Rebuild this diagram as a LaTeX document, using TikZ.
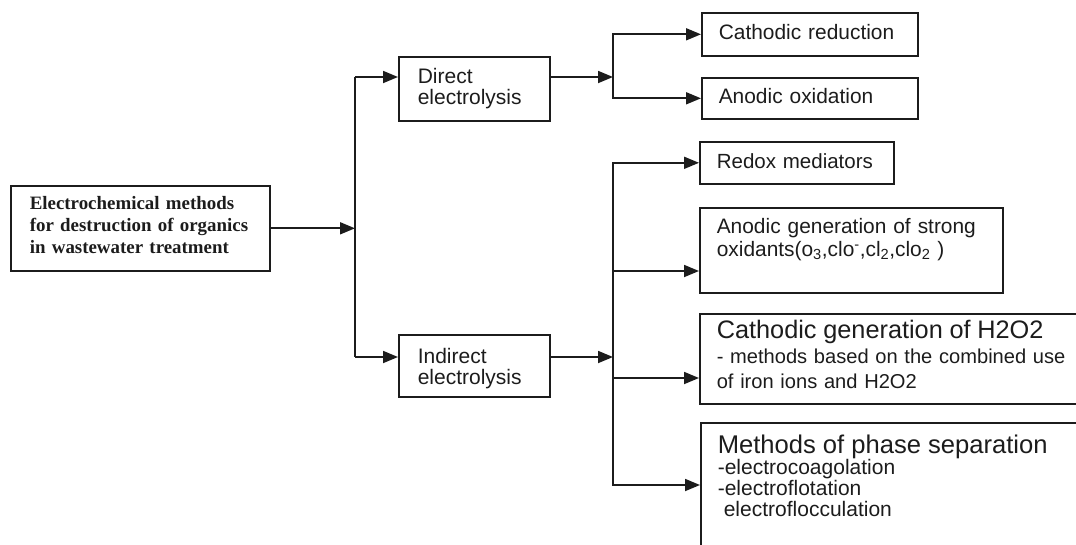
\documentclass[tikz,border=0pt]{standalone}
\usepackage{fontspec}
\setmainfont{Liberation Sans}
\newfontfamily\serifbold{Liberation Serif}
\usetikzlibrary{arrows.meta}
\definecolor{ink}{HTML}{1C1C1C}
\tikzset{
  box/.style={draw=ink, line width=1.6pt, text=ink, anchor=north west,
    inner ysep=0pt, inner xsep=17pt, align=left},
  conn/.style={draw=ink, line width=1.8pt},
  arr/.style={conn, -{Triangle[length=15pt,width=12pt]}},
}
\begin{document}
\begin{tikzpicture}[x=1pt, y=-1pt]
    \useasboundingbox (0,0) rectangle (1076,544);
    \clip (0,0) rectangle (1076,544);

    % Root
    \node[box, inner xsep=19pt, text width=221pt, text height=24pt, text depth=61pt,
      font=\serifbold\bfseries\fontsize{18.9}{22}\selectfont] (methods) at (10,185)
      {Electrochemical methods\\for destruction of organics\\in wastewater treatment};

    % Two kinds of electrolysis
    \node[box, inner xsep=19pt, text width=113pt, text height=27pt, text depth=37pt,
      font=\fontsize{21}{20.5}\selectfont] (direct) at (398,56) {Direct\\electrolysis};
    \node[box, inner xsep=19pt, text width=113pt, text height=29pt, text depth=33pt,
      font=\fontsize{21}{20.5}\selectfont] (indirect) at (398,334) {Indirect\\electrolysis};

    % Direct methods
    \node[box, text width=182pt, text height=27pt, text depth=16pt,
      font=\fontsize{20.9}{21}\selectfont] (cathred) at (701,12) {Cathodic reduction};
    \node[box, text width=182pt, text height=26pt, text depth=15pt,
      font=\fontsize{20.9}{21}\selectfont] (anodox) at (701,77) {Anodic oxidation};

    % Indirect methods
    \node[box, text width=160pt, text height=27pt, text depth=15pt,
      font=\fontsize{20.5}{21}\selectfont] (redox) at (699,141) {Redox mediators};
    \node[box, text width=269pt, text height=26pt, text depth=59pt,
      font=\fontsize{20.9}{23}\selectfont] (anodgen) at (699,207)
      {Anodic generation of strong\\oxidants(o\textsubscript{3},clo\textsuperscript{-},cl\textsubscript{2},clo\textsubscript{2} )};
    \node[box, text width=366pt, text height=25pt, text depth=65pt,
      font=\fontsize{20.1}{25}\selectfont] (cathgen) at (699,313)
      {{\fontsize{25.3}{25}\selectfont Cathodic generation of H2O2}\\- methods based on the combined use\\of iron ions and H2O2};
    \node[box, text width=366pt, text height=31pt, text depth=138pt,
      font=\fontsize{21}{21}\selectfont] (phase) at (700,422)
      {{\fontsize{25.6}{21}\selectfont Methods of phase separation}\\-electrocoagolation\\-electroflotation\\\hspace*{6pt}electroflocculation};

    % Branch points
    \coordinate (jroot) at (355,228);
    \coordinate (jdir) at (355,77);
    \coordinate (jind) at (355,357);
    \coordinate (bdir) at (613,77);
    \coordinate (bind) at (613,357);
    \coordinate (bgen) at (613,271);
    \coordinate (bhyd) at (613,378);
    \coordinate (bsep) at (613,485);

    % Root to electrolysis
    \draw[arr] (methods.east) -- (methods.east -| jroot);
    \draw[conn] (jdir) -- (jind);
    \draw[arr] (jdir) -- (jdir -| direct.west);
    \draw[arr] (jind) -- (jind -| indirect.west);

    % Direct branch
    \draw[arr] (bdir -| direct.east) -- (bdir);
    \draw[arr] (bdir) |- (cathred.west);
    \draw[arr] (bdir) |- (anodox.west);

    % Indirect branch
    \draw[arr] (bind -| indirect.east) -- (bind);
    \draw[arr] (bind) |- (redox.west);
    \draw[arr] (bind) |- (bgen -| anodgen.west);
    \draw[arr] (bind) |- (bhyd -| cathgen.west);
    \draw[arr] (bind) |- (bsep -| phase.west);
\end{tikzpicture}
\end{document}
